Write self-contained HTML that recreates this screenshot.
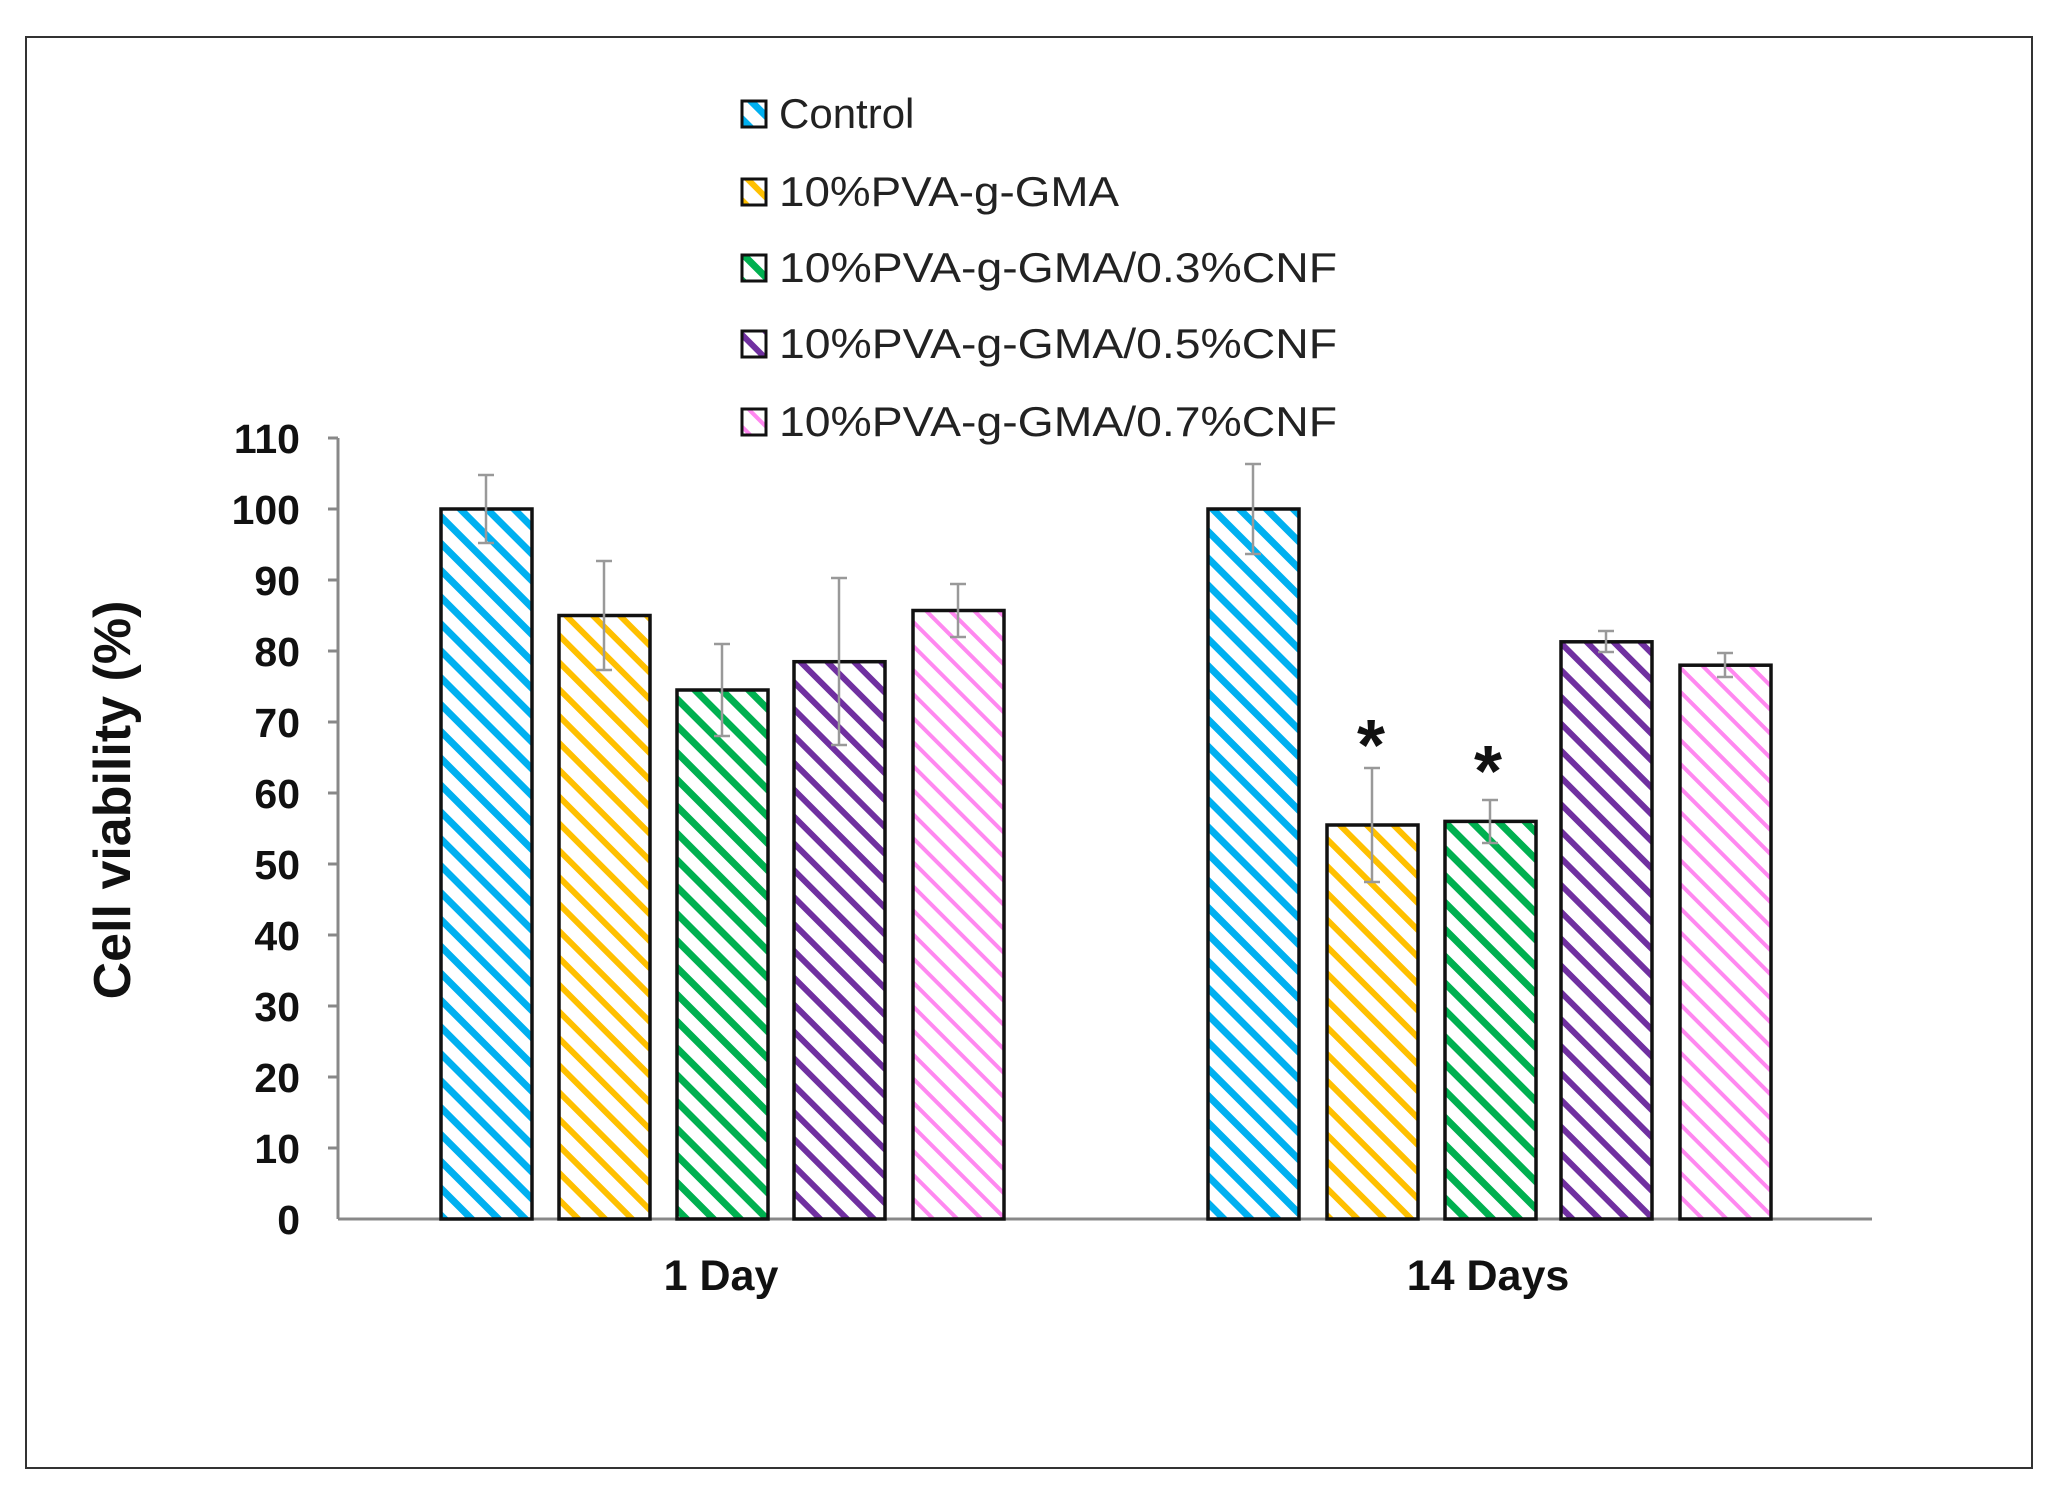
<!DOCTYPE html>
<html><head><style>
html,body{margin:0;padding:0;background:#fff;}
svg{display:block;}
text{font-family:"Liberation Sans",Arial,sans-serif;}
</style></head><body>
<svg width="2056" height="1492" viewBox="0 0 2056 1492" xmlns="http://www.w3.org/2000/svg">
<defs>
<pattern id="pc" width="19" height="19" patternUnits="userSpaceOnUse" patternTransform="rotate(-45)"><rect width="19" height="19" fill="#fff"/><rect width="7" height="19" fill="#00b0f0"/></pattern>
<pattern id="po" width="19" height="19" patternUnits="userSpaceOnUse" patternTransform="rotate(-45)"><rect width="19" height="19" fill="#fff"/><rect width="6" height="19" fill="#ffc000"/></pattern>
<pattern id="pg" width="19" height="19" patternUnits="userSpaceOnUse" patternTransform="rotate(-45)"><rect width="19" height="19" fill="#fff"/><rect width="7" height="19" fill="#00b050"/></pattern>
<pattern id="pp" width="19" height="19" patternUnits="userSpaceOnUse" patternTransform="rotate(-45)"><rect width="19" height="19" fill="#fff"/><rect width="6" height="19" fill="#7030a0"/></pattern>
<pattern id="pk" width="17" height="17" patternUnits="userSpaceOnUse" patternTransform="rotate(-45)"><rect width="17" height="17" fill="#fff"/><rect width="4" height="17" fill="#ff88f0"/></pattern>
</defs>
<rect x="0" y="0" width="2056" height="1492" fill="#fff"/>
<rect x="26" y="37" width="2006" height="1431" fill="none" stroke="#333" stroke-width="2"/>

<g stroke="#888" stroke-width="3">
<line x1="338" y1="438" x2="338" y2="1219"/>
<line x1="338" y1="1219" x2="1872" y2="1219"/>
<line x1="328" y1="438" x2="338" y2="438"/>
<line x1="328" y1="509" x2="338" y2="509"/>
<line x1="328" y1="580" x2="338" y2="580"/>
<line x1="328" y1="651" x2="338" y2="651"/>
<line x1="328" y1="722" x2="338" y2="722"/>
<line x1="328" y1="793" x2="338" y2="793"/>
<line x1="328" y1="864" x2="338" y2="864"/>
<line x1="328" y1="935" x2="338" y2="935"/>
<line x1="328" y1="1006" x2="338" y2="1006"/>
<line x1="328" y1="1077" x2="338" y2="1077"/>
<line x1="328" y1="1148" x2="338" y2="1148"/>
</g>
<g font-size="41" font-weight="bold" text-anchor="end" fill="#111">
<text x="300" y="453">110</text>
<text x="300" y="524">100</text>
<text x="300" y="595">90</text>
<text x="300" y="666">80</text>
<text x="300" y="737">70</text>
<text x="300" y="808">60</text>
<text x="300" y="879">50</text>
<text x="300" y="950">40</text>
<text x="300" y="1021">30</text>
<text x="300" y="1092">20</text>
<text x="300" y="1163">10</text>
<text x="300" y="1234">0</text>
</g>
<text transform="translate(130,800) rotate(-90)" font-size="52" font-weight="bold" text-anchor="middle" fill="#111">Cell viability (%)</text>
<g font-size="43" font-weight="bold" text-anchor="middle" fill="#111">
<text x="721" y="1290">1 Day</text>
<text x="1488" y="1290">14 Days</text>
</g>

<g stroke="#111" stroke-width="3.5">
<rect x="441" y="509" width="91" height="710" fill="url(#pc)"/>
<rect x="559" y="615.5" width="91" height="603.5" fill="url(#po)"/>
<rect x="677" y="690" width="91" height="529" fill="url(#pg)"/>
<rect x="794" y="661.7" width="91" height="557.3" fill="url(#pp)"/>
<rect x="913" y="610.5" width="91" height="608.5" fill="url(#pk)"/>
<rect x="1208" y="509" width="91" height="710" fill="url(#pc)"/>
<rect x="1327" y="825" width="91" height="394" fill="url(#po)"/>
<rect x="1445" y="821.4" width="91" height="397.6" fill="url(#pg)"/>
<rect x="1561" y="641.8" width="91" height="577.2" fill="url(#pp)"/>
<rect x="1680" y="665.2" width="91" height="553.8" fill="url(#pk)"/>
</g>
<g stroke="#999" stroke-width="2.5" fill="none">
<path d="M486 475V543M478 475H494M478 543H494"/>
<path d="M604 561V670M596 561H612M596 670H612"/>
<path d="M722 644V736M714 644H730M714 736H730"/>
<path d="M839 578V745M831 578H847M831 745H847"/>
<path d="M958 584V637M950 584H966M950 637H966"/>
<path d="M1253 464V554M1245 464H1261M1245 554H1261"/>
<path d="M1372 768V882M1364 768H1380M1364 882H1380"/>
<path d="M1490 800V843M1482 800H1498M1482 843H1498"/>
<path d="M1606 631V652M1598 631H1614M1598 652H1614"/>
<path d="M1725 653V677M1717 653H1733M1717 677H1733"/>
</g>
<g font-size="72" font-weight="bold" text-anchor="middle" fill="#111">
<text x="1371" y="770">*</text>
<text x="1488" y="796">*</text>
</g>

<g stroke="#111" stroke-width="3">
<rect x="742" y="101" width="24" height="26" fill="url(#pc)"/>
<rect x="742" y="179" width="24" height="26" fill="url(#po)"/>
<rect x="742" y="255" width="24" height="26" fill="url(#pg)"/>
<rect x="742" y="331" width="24" height="26" fill="url(#pp)"/>
<rect x="742" y="409" width="24" height="26" fill="url(#pk)"/>
</g>
<g font-size="42" fill="#222">
<text x="779" y="128">Control</text>
<text x="779" y="206" textLength="340" lengthAdjust="spacingAndGlyphs">10%PVA-g-GMA</text>
<text x="779" y="282" textLength="558" lengthAdjust="spacingAndGlyphs">10%PVA-g-GMA/0.3%CNF</text>
<text x="779" y="358" textLength="558" lengthAdjust="spacingAndGlyphs">10%PVA-g-GMA/0.5%CNF</text>
<text x="779" y="436" textLength="558" lengthAdjust="spacingAndGlyphs">10%PVA-g-GMA/0.7%CNF</text>
</g>
</svg>
</body></html>
